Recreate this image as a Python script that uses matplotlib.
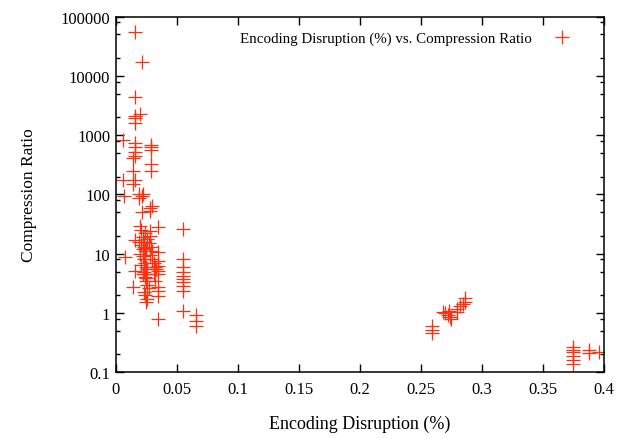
import numpy as np
import matplotlib.pyplot as plt
from matplotlib.ticker import LogLocator, NullFormatter, FixedLocator

# Encoding disruption (fraction) vs compression ratio
disruption = [
    0.0158, 0.0218, 0.0158, 0.0158, 0.0200, 0.0158, 0.0158,
    0.0062, 0.0158, 0.0158, 0.0158, 0.0158, 0.0144,
    0.0287, 0.0287, 0.0287, 0.0287, 0.0287, 0.0144,
    0.0062, 0.0158, 0.0139, 0.0068, 0.0194, 0.0213, 0.0194,
    0.0281, 0.0295, 0.0213, 0.0199, 0.0349, 0.0281, 0.0226, 0.0158,
    0.0076, 0.0158, 0.0144, 0.0224, 0.0281,
    # dense core
    0.019, 0.021, 0.022, 0.023, 0.024, 0.025, 0.020, 0.022, 0.023, 0.024,
    0.021, 0.025, 0.026, 0.023, 0.022, 0.024, 0.025, 0.026, 0.027, 0.023,
    0.024, 0.026, 0.025, 0.028, 0.027, 0.029, 0.030, 0.028, 0.030, 0.031,
    0.032, 0.033, 0.031, 0.032, 0.024, 0.026, 0.021, 0.023, 0.025,
    # x ~ 0.035
    0.0349, 0.0349, 0.0349, 0.0349, 0.0349, 0.0349, 0.0349, 0.0349, 0.0349,
    # x ~ 0.056
    0.0554, 0.0554, 0.0554, 0.0554, 0.0554, 0.0554, 0.0554, 0.0554, 0.0554, 0.0554,
    # x ~ 0.066
    0.0660, 0.0660, 0.0660,
    # right clusters
    0.2595, 0.2595, 0.2595,
    0.268, 0.270, 0.272, 0.274, 0.275, 0.273,
    0.280, 0.282, 0.280, 0.2863, 0.2863, 0.285,
    0.3746, 0.3746, 0.3746, 0.3746, 0.3746, 0.3746,
    0.3882, 0.3882, 0.396,
]
ratio = [
    54100, 16900, 4440, 2140, 2270, 1930, 1580,
    836, 736, 620, 525, 450, 405,
    690, 620, 565, 326, 252, 252,
    177, 177, 150, 95, 101, 95, 86,
    58, 64, 50, 29.7, 27.8, 24.4, 18.9, 17.2,
    8.9, 5.2, 2.77, 101, 53,
    16, 14, 12, 13, 11, 12.5, 10, 9, 8, 7,
    6.5, 6, 5.5, 5, 4.5, 4, 3.5, 3, 2.6, 2.3,
    2.0, 1.7, 1.55, 20, 15, 13, 11, 9.5, 8, 7,
    6, 5.5, 4.5, 3.5, 22, 18, 25, 15.6, 3.85,
    10.5, 7.6, 6.3, 5.2, 4.5, 2.71, 2.38, 1.96, 0.79,
    26, 8.1, 5.9, 5.0, 4.26, 3.74, 3.29, 2.89, 2.38, 1.09,
    0.93, 0.74, 0.61,
    0.61, 0.52, 0.46,
    1.05, 1.0, 0.92, 0.85, 0.80, 1.1,
    1.17, 1.33, 1.03, 1.77, 1.55, 1.4,
    0.263, 0.24, 0.223, 0.19, 0.163, 0.138,
    0.24, 0.215, 0.218,
]

x_ticks = [0, 0.05, 0.1, 0.15, 0.2, 0.25, 0.3, 0.35, 0.4]
y_ticks = [0.1, 1, 10, 100, 1000, 10000, 100000]

plt.rcParams['font.family'] = 'Liberation Serif'

fig = plt.figure(figsize=(6.21, 4.39), dpi=100)
ax = fig.add_axes([0.1863, 0.1497, 0.7858, 0.8104])

ax.plot(disruption, ratio, linestyle='none', marker='+', markersize=10,
        markeredgewidth=0.9, color='#ff3010',
        label='Encoding Disruption (%) vs. Compression Ratio')

ax.set_yscale('log')
ax.set_xlim(0, 0.4)
ax.set_ylim(0.1, 100000)

ax.xaxis.set_major_locator(FixedLocator(x_ticks))
ax.set_xticklabels([f'{t:g}' for t in x_ticks])
ax.yaxis.set_major_locator(FixedLocator(y_ticks))
ax.set_yticklabels([f'{t:g}' for t in y_ticks])
ax.yaxis.set_minor_locator(LogLocator(base=10, subs=[2, 5, 8], numticks=20))
ax.yaxis.set_minor_formatter(NullFormatter())

ax.tick_params(which='both', direction='in', top=True, right=True,
               labelsize=12, width=1)
ax.tick_params(which='major', length=5.5)
ax.tick_params(which='minor', length=3)
ax.tick_params(axis='x', which='major', pad=6)
ax.tick_params(axis='y', which='major', pad=4)
for s in ax.spines.values():
    s.set_linewidth(1.1)

ax.set_xlabel('Encoding Disruption (%)', fontsize=13, labelpad=13)
ax.set_ylabel('Compression Ratio', fontsize=12.5, labelpad=17)

ax.legend(loc='upper right', bbox_to_anchor=(1 - 15 / 488, 1), frameon=False,
          markerfirst=False, fontsize=10.8, handlelength=1.5, handletextpad=1.3,
          borderaxespad=0.6)

fig.savefig('out.png', dpi=100)
